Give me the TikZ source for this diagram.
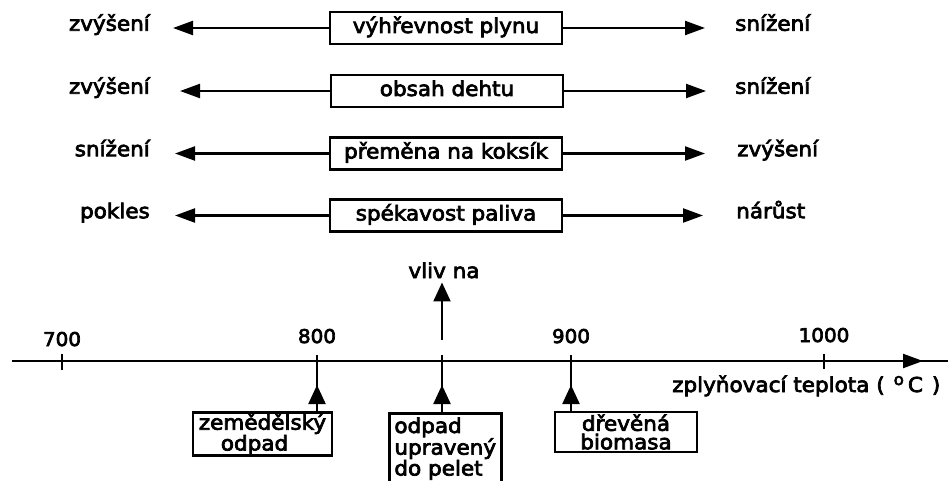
\documentclass[tikz,border=0pt]{standalone}
\usepackage{fontspec}
\setmainfont{DejaVu Sans}[FakeStretch=1.05,FakeBold=3.5]
\usetikzlibrary{arrows.meta}
\begin{document}
\begin{tikzpicture}[x=1pt,y=-1pt,
  every node/.style={font=\fontsize{20.5}{18}\selectfont, inner sep=0pt},
  ln/.style={line width=2.2pt},
  arr/.style={line width=2.2pt, -{Triangle[length=20pt,width=14pt]}},
  varr/.style={line width=2.2pt, -{Triangle[length=19pt,width=17pt]}},
  pbox/.style={draw, line width=2.8pt, minimum width=232pt, minimum height=32pt, text height=15pt, text depth=5pt},
  lbox/.style={draw, line width=2.8pt, align=left},
  num/.style={font=\fontsize{19}{19}\selectfont, anchor=base}
]
\useasboundingbox (0,0) rectangle (950,481);
\fill[white] (0,0) rectangle (950,481);
\clip (0,0) rectangle (950,481);

% rows
\node[pbox] (b1) at (446,28) {výhřevnost plynu};
\node[anchor=mid east] (l1) at (150,28) {zvýšení};
\node[anchor=mid west] (r1) at (735,28) {snížení};
\draw[arr, shorten >=23pt] (b1.west) -- (b1.west -| l1.east);
\draw[arr, shorten >=30pt] (b1.east) -- (b1.east -| r1.west);

\node[pbox] (b2) at (447,91) {obsah dehtu};
\node[anchor=mid east] (l2) at (150,91) {zvýšení};
\node[anchor=mid west] (r2) at (735,91) {snížení};
\draw[arr, shorten >=30pt] (b2.west) -- (b2.west -| l2.east);
\draw[arr, shorten >=29pt] (b2.east) -- (b2.east -| r2.west);

\node[pbox] (b3) at (446,153.5) {přeměna na koksík};
\node[anchor=mid east] (l3) at (150,153.5) {snížení};
\node[anchor=mid west] (r3) at (737,153.5) {zvýšení};
\draw[arr, shorten >=25pt] (b3.west) -- (b3.west -| l3.east);
\draw[arr, shorten >=32pt] (b3.east) -- (b3.east -| r3.west);

\node[pbox] (b4) at (446,215.5) {spékavost paliva};
\node[anchor=mid east] (l4) at (150,215.5) {pokles};
\node[anchor=mid west] (r4) at (736,215.5) {nárůst};
\draw[arr, shorten >=25pt] (b4.west) -- (b4.west -| l4.east);
\draw[arr, shorten >=33pt] (b4.east) -- (b4.east -| r4.west);

% axis
\coordinate (ax0) at (12,361);
\coordinate (ax1) at (948,361);
\coordinate (axtip) at (923,361);
\draw[ln] (ax0) -- (ax1);
\draw[arr] (ax0) -- (axtip);

\coordinate (t700) at (62,361);
\coordinate (t800) at (317,361);
\coordinate (t850) at (442,361);
\coordinate (t900) at (571,361);
\coordinate (t1000) at (824,361);
\draw[ln] ([yshift=7pt]t700) -- ([yshift=-9pt]t700);
\draw[ln] ([yshift=7pt]t1000) -- ([yshift=-8pt]t1000);

\node[num] (n700) at (62,346) {700};
\node[num] (n800) at (317,343) {800};
\node[num] (n900) at (571,343) {900};
\node[num] (n1000) at (824,342) {1000};

\node[anchor=base west] (zt) at (672,392) {zplyňovací teplota (\hspace{9pt}\raisebox{7pt}{\fontsize{16}{16}\selectfont o}\hspace{4pt}C\hspace{9pt})};

% vliv na
\node[anchor=base] (vliv) at (444,278) {vliv na};
\coordinate (vstart) at (442,340);
\draw[varr, shorten >=4pt] (vstart) -- (vstart |- vliv.south);

% lower boxes
\node[lbox, minimum width=139pt, minimum height=43pt] (zem) at (262.5,434) {zemědělský\\\hspace*{22pt}odpad};
\node[lbox, anchor=north west, minimum width=110pt, inner xsep=5pt, inner ysep=4pt] (pel) at (388,412) {odpad\\upravený\\do pelet\\[10pt]~};
\node[lbox, align=center, minimum width=142pt, minimum height=40pt, font=\fontsize{20.5}{18.5}\selectfont] (dre) at (626,432) {dřevěná\\biomasa};

\draw[ln] (zem.north -| t800) -- ([yshift=6pt]t800);
\draw[varr] (zem.north -| t800) -- ([yshift=-24pt]t800);
\draw[ln] (pel.north -| t850) -- ([yshift=6pt]t850);
\draw[varr] (pel.north -| t850) -- ([yshift=-24pt]t850);
\draw[ln] (dre.north -| t900) -- ([yshift=6pt]t900);
\draw[varr] (dre.north -| t900) -- ([yshift=-24pt]t900);
\end{tikzpicture}
\end{document}
